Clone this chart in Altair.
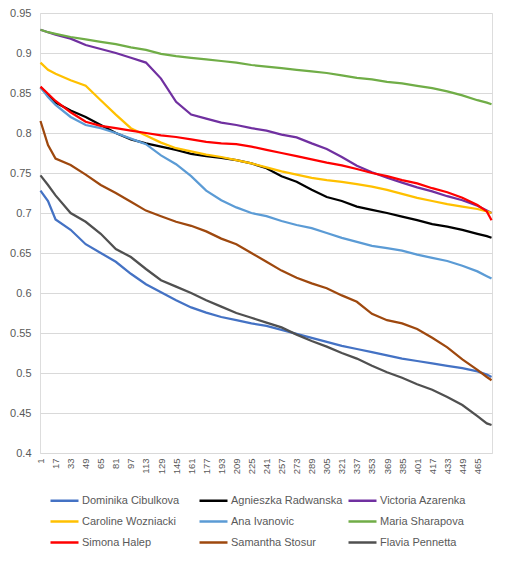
import altair as alt
import pandas as pd

IDX = [1, 9, 17, 33, 49, 65, 81, 97, 113, 129, 145, 161, 177, 193, 209, 225, 241,
       257, 273, 289, 305, 321, 337, 353, 369, 385, 401, 417, 433, 449, 465, 475, 480]

SERIES = ["Dominika Cibulkova", "Agnieszka Radwanska", "Victoria Azarenka",
          "Caroline Wozniacki", "Ana Ivanovic", "Maria Sharapova",
          "Simona Halep", "Samantha Stosur", "Flavia Pennetta"]

COLORS = ["#4472C4", "#000000", "#7030A0", "#FFC000", "#5B9BD5", "#70AD47",
          "#FF0000", "#9E480E", "#505050"]

dominika = [0.728, 0.715, 0.692, 0.679, 0.661, 0.650, 0.639, 0.624, 0.611, 0.601, 0.591,
            0.582, 0.5755, 0.570, 0.566, 0.562, 0.559, 0.554, 0.549, 0.544, 0.539, 0.534,
            0.530, 0.526, 0.522, 0.518, 0.515, 0.512, 0.509, 0.506, 0.502, 0.498, 0.495]
agnieszka = [0.857, 0.848, 0.838, 0.828, 0.820, 0.810, 0.800, 0.792, 0.787, 0.783, 0.779,
             0.774, 0.771, 0.769, 0.766, 0.762, 0.756, 0.746, 0.739, 0.729, 0.720, 0.715,
             0.708, 0.704, 0.700, 0.6955, 0.691, 0.686, 0.683, 0.679, 0.674, 0.671, 0.669]
victoria = [0.929, 0.926, 0.923, 0.918, 0.910, 0.905, 0.900, 0.894, 0.888, 0.868, 0.839,
            0.823, 0.818, 0.813, 0.810, 0.806, 0.803, 0.798, 0.7945, 0.787, 0.780, 0.770,
            0.759, 0.751, 0.744, 0.738, 0.732, 0.727, 0.721, 0.716, 0.709, 0.703, 0.700]
caroline = [0.888, 0.879, 0.874, 0.866, 0.859, 0.841, 0.823, 0.806, 0.797, 0.788, 0.781,
            0.777, 0.773, 0.770, 0.766, 0.762, 0.757, 0.752, 0.748, 0.744, 0.741, 0.739,
            0.736, 0.733, 0.729, 0.724, 0.719, 0.715, 0.711, 0.708, 0.705, 0.702, 0.700]
ana = [0.857, 0.845, 0.835, 0.820, 0.810, 0.806, 0.800, 0.793, 0.786, 0.772, 0.761,
       0.746, 0.728, 0.716, 0.707, 0.700, 0.696, 0.690, 0.685, 0.681, 0.675, 0.669,
       0.664, 0.659, 0.656, 0.653, 0.648, 0.644, 0.640, 0.634, 0.627, 0.621, 0.618]
maria = [0.929, 0.926, 0.924, 0.920, 0.917, 0.914, 0.911, 0.907, 0.904, 0.899, 0.896,
         0.894, 0.892, 0.890, 0.888, 0.885, 0.883, 0.881, 0.879, 0.877, 0.875, 0.872,
         0.869, 0.867, 0.864, 0.862, 0.859, 0.856, 0.852, 0.847, 0.841, 0.838, 0.836]
simona = [0.858, 0.849, 0.840, 0.826, 0.814, 0.809, 0.806, 0.803, 0.800, 0.797, 0.795,
          0.792, 0.789, 0.787, 0.786, 0.783, 0.779, 0.775, 0.771, 0.767, 0.763, 0.7595,
          0.755, 0.750, 0.746, 0.741, 0.737, 0.731, 0.726, 0.719, 0.710, 0.702, 0.691]
samantha = [0.815, 0.785, 0.768, 0.760, 0.748, 0.735, 0.725, 0.714, 0.703, 0.696, 0.689,
            0.684, 0.677, 0.668, 0.661, 0.650, 0.639, 0.628, 0.619, 0.612, 0.606, 0.597,
            0.589, 0.574, 0.566, 0.562, 0.555, 0.544, 0.532, 0.517, 0.504, 0.495, 0.491]
flavia = [0.747, 0.735, 0.722, 0.700, 0.689, 0.674, 0.655, 0.645, 0.630, 0.616, 0.608,
          0.600, 0.591, 0.583, 0.575, 0.569, 0.563, 0.557, 0.548, 0.540, 0.533, 0.525,
          0.518, 0.509, 0.501, 0.494, 0.486, 0.479, 0.470, 0.460, 0.446, 0.437, 0.435]

X_TICKS = [1, 17, 33, 49, 65, 81, 97, 113, 129, 145, 161, 177, 193, 209, 225, 241,
           257, 273, 289, 305, 321, 337, 353, 369, 385, 401, 417, 433, 449, 465]
Y_TICKS = [0.4, 0.45, 0.5, 0.55, 0.6, 0.65, 0.7, 0.75, 0.8, 0.85, 0.9, 0.95]

values = [dominika, agnieszka, victoria, caroline, ana, maria, simona, samantha, flavia]
rows = []
for name, vals in zip(SERIES, values):
    for i, v in zip(IDX, vals):
        rows.append({"player": name, "idx": i, "value": v})
df = pd.DataFrame(rows)

FONT = "Liberation Sans"
GREY = "#595959"

chart = (
    alt.Chart(df)
    .mark_line(strokeWidth=2.25)
    .encode(
        x=alt.X("idx:Q",
                scale=alt.Scale(domain=[0.5, 480.5], nice=False, zero=False),
                axis=alt.Axis(values=X_TICKS, title=None, grid=False, ticks=False,
                              domain=False, labelAngle=-90, labelFlush=False,
                              labelOverlap=False, labelPadding=5, labelFontSize=9.5,
                              labelColor=GREY, labelFont=FONT)),
        y=alt.Y("value:Q",
                scale=alt.Scale(domain=[0.4, 0.95], nice=False, zero=False),
                axis=alt.Axis(values=Y_TICKS, title=None, format=".2~f", ticks=False,
                              domain=False, gridColor="#D9D9D9", gridWidth=1,
                              labelPadding=9, labelFontSize=11, labelColor=GREY,
                              labelFont=FONT)),
        color=alt.Color("player:N",
                        scale=alt.Scale(domain=SERIES, range=COLORS),
                        sort=SERIES,
                        legend=alt.Legend(title=None, orient="none", legendX=9,
                                          legendY=472, columns=3, direction="horizontal",
                                          symbolType="stroke",
                                          symbolSize=784, symbolStrokeWidth=2.5,
                                          labelFontSize=11, labelColor=GREY,
                                          labelFont=FONT, labelOffset=2,
                                          gridAlign="all", columnPadding=0,
                                          rowPadding=-7)),
        order=alt.Order("idx:Q"),
    )
    .properties(width=452, height=440,
                padding={"left": 32, "top": 5, "right": 6, "bottom": 100},
                autosize=alt.AutoSizeParams(type="none"))
    .configure_view(fill="#F2F2F2", stroke="transparent")
    .configure(background="white")
)

chart.save("out.html", embed_options={"renderer": "svg", "actions": False})
